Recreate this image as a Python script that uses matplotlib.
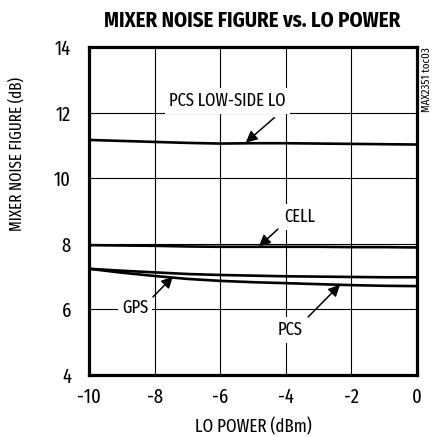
import matplotlib
matplotlib.use("Agg")
import matplotlib.pyplot as plt

# LO power sweep (dBm) and noise figure curves (dB)
lo_power = [-10, -9, -8, -7, -6, -5, -4, -3, -2, -1, 0]
nf_pcs_lowside = [11.17, 11.14, 11.11, 11.08, 11.06, 11.07, 11.07, 11.06, 11.05, 11.04, 11.03]
nf_cell = [7.96, 7.95, 7.94, 7.92, 7.91, 7.91, 7.91, 7.91, 7.90, 7.90, 7.89]
nf_gps = [7.24, 7.18, 7.13, 7.08, 7.05, 7.03, 7.01, 7.00, 6.99, 6.98, 6.98]
nf_pcs = [7.24, 7.12, 7.02, 6.93, 6.87, 6.83, 6.80, 6.77, 6.74, 6.72, 6.71]

xticks = [-10, -8, -6, -4, -2, 0]
yticks = [4, 6, 8, 10, 12, 14]

plt.rcParams["font.family"] = ["Fira Sans Extra Condensed", "DejaVu Sans"]
plt.rcParams["axes.unicode_minus"] = False

fig = plt.figure(figsize=(4.34, 4.37), dpi=100)
ax = fig.add_axes([0.205, 0.142, 0.756, 0.750])

for ys in (nf_pcs_lowside, nf_cell, nf_gps, nf_pcs):
    ax.plot(lo_power, ys, color="black", lw=1.9, zorder=3)

ax.set_xlim(-10, 0)
ax.set_ylim(4, 14)
ax.set_xticks(xticks)
ax.set_yticks(yticks)
ax.grid(True, color="black", lw=0.8)
ax.tick_params(axis="x", length=0, labelsize=14.5, pad=9)
ax.tick_params(axis="y", length=0, labelsize=14.5, pad=13)
for s in ax.spines.values():
    s.set_linewidth(2.3)
    s.set_zorder(5)

ax.set_xlabel("LO POWER (dBm)", fontsize=13.3, labelpad=8)
ax.set_ylabel("MIXER NOISE FIGURE (dB)", fontsize=11.8)
ax.yaxis.set_label_coords(-0.195, 0.675)

bbox = dict(facecolor="white", edgecolor="none", pad=3)
arrow = dict(arrowstyle="-|>", color="black", lw=1.1, mutation_scale=17,
             shrinkA=0, shrinkB=0)

# labels: (text, text pos, arrow tail, arrow tip)
labels = [
    ("PCS LOW-SIDE LO", (-5.78, 12.36), (-4.35, 11.85), (-5.22, 11.09)),
    ("CELL", (-3.57, 8.83), (-4.24, 8.45), (-4.82, 7.92)),
    ("GPS", (-8.6, 6.06), (-8.05, 6.38), (-7.44, 7.0)),
    ("PCS", (-3.87, 5.37), (-3.32, 5.77), (-2.35, 6.75)),
]
for txt, pos, tail, tip in labels:
    ax.text(pos[0], pos[1], txt, ha="center", va="center", fontsize=13,
            bbox=bbox, zorder=4)
    ax.annotate("", xy=tip, xytext=tail, arrowprops=arrow, zorder=4)

fig.text(0.58, 0.952, "MIXER NOISE FIGURE vs. LO POWER", ha="center", va="center",
         fontsize=15, fontweight="bold", family="Fira Sans Condensed")
fig.text(0.984, 0.818, "MAX2351 toc03", rotation=90, ha="center", va="center",
         fontsize=8.5)

fig.savefig("out.png", dpi=100)
